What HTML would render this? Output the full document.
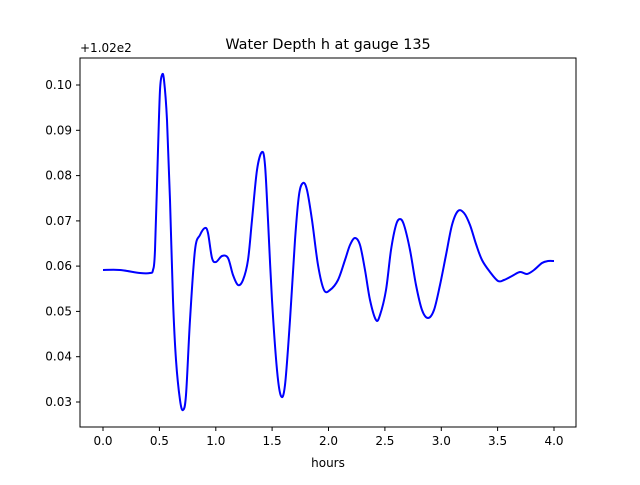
<!DOCTYPE html>
<html><head><meta charset="utf-8"><style>body{margin:0;background:#fff}</style></head><body>
<svg width="640" height="480" xmlns="http://www.w3.org/2000/svg" font-family="DejaVu Sans, Liberation Sans, sans-serif">
<rect width="640" height="480" fill="#fff"/>
<text x="328" y="49" font-size="14.4" text-anchor="middle">Water Depth h at gauge 135</text>
<text x="80" y="52" font-size="12">+1.02e2</text>
<polyline id="pl" fill="none" stroke="#0000ff" stroke-width="2" stroke-linejoin="round" points="103,270 120,270 140,273 150,273 153,270 155,250 158,150 160,90 162,75 164,80 167,120 170,200 173,300 176,360 180,400 183,410 186,395 190,320 195,250 200,235 205,228 208,233 212,258 216,262 222,256 228,258 233,275 238,285 243,280 248,260 252,220 257,170 262,152 265,165 268,220 272,300 277,370 281,396 285,385 290,320 295,240 299,195 303,183 307,190 312,220 318,265 324,290 330,290 338,280 345,260 350,245 355,238 360,245 365,270 370,300 376,320 380,315 386,290 391,250 396,225 400,219 404,225 410,250 416,285 422,310 428,318 434,310 440,285 446,255 452,225 458,211 464,213 470,225 476,244 482,260 490,272 498,281 504,280 512,276 520,272 527,274 534,270 542,263 548,261 554,261"/>
<path id="pa" fill="none" stroke="#0000ff" stroke-width="2" stroke-linejoin="round" d=""/>
<rect x="80" y="58" width="496" height="369" fill="none" stroke="#000" stroke-width="1"/>
<g stroke="#000" stroke-width="1">
<line x1="103" y1="427" x2="103" y2="431"/><line x1="159.4" y1="427" x2="159.4" y2="431"/><line x1="215.8" y1="427" x2="215.8" y2="431"/><line x1="272.1" y1="427" x2="272.1" y2="431"/><line x1="328.5" y1="427" x2="328.5" y2="431"/><line x1="384.9" y1="427" x2="384.9" y2="431"/><line x1="441.3" y1="427" x2="441.3" y2="431"/><line x1="497.6" y1="427" x2="497.6" y2="431"/><line x1="554" y1="427" x2="554" y2="431"/>
<line x1="76" y1="85" x2="80" y2="85"/><line x1="76" y1="130.3" x2="80" y2="130.3"/><line x1="76" y1="175.6" x2="80" y2="175.6"/><line x1="76" y1="220.9" x2="80" y2="220.9"/><line x1="76" y1="266.1" x2="80" y2="266.1"/><line x1="76" y1="311.4" x2="80" y2="311.4"/><line x1="76" y1="356.7" x2="80" y2="356.7"/><line x1="76" y1="402" x2="80" y2="402"/>
</g>
<g font-size="12" text-anchor="middle">
<text x="103" y="445">0.0</text><text x="159.4" y="445">0.5</text><text x="215.8" y="445">1.0</text><text x="272.1" y="445">1.5</text><text x="328.5" y="445">2.0</text><text x="384.9" y="445">2.5</text><text x="441.3" y="445">3.0</text><text x="497.6" y="445">3.5</text><text x="554" y="445">4.0</text>
<text x="328" y="467">hours</text>
</g>
<g font-size="12" text-anchor="end">
<text x="72" y="89">0.10</text><text x="72" y="134.3">0.09</text><text x="72" y="179.6">0.08</text><text x="72" y="224.9">0.07</text><text x="72" y="270.1">0.06</text><text x="72" y="315.4">0.05</text><text x="72" y="360.7">0.04</text><text x="72" y="406">0.03</text>
</g>
</svg>
<script>
(function(){
var pl=document.getElementById('pl');
var p=pl.getAttribute('points').trim().split(/\s+/).map(function(s){return s.split(',').map(Number);});
var d='M'+p[0][0]+','+p[0][1];
for(var i=0;i<p.length-1;i++){
var p0=p[i-1]||p[i],p1=p[i],p2=p[i+1],p3=p[i+2]||p2;
var c1x=p1[0]+(p2[0]-p0[0])/6,c1y=p1[1]+(p2[1]-p0[1])/6;
var c2x=p2[0]-(p3[0]-p1[0])/6,c2y=p2[1]-(p3[1]-p1[1])/6;
d+=' C'+c1x.toFixed(2)+','+c1y.toFixed(2)+' '+c2x.toFixed(2)+','+c2y.toFixed(2)+' '+p2[0]+','+p2[1];
}
document.getElementById('pa').setAttribute('d',d);
pl.style.display='none';
})();
</script>
</body></html>
